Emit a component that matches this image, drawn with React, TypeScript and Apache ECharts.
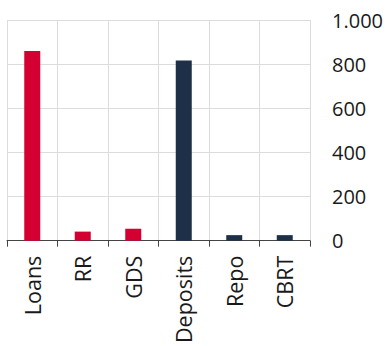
import React, { useEffect, useRef } from "react";
import * as echarts from "echarts";

const categories = ["Loans", "RR", "GDS", "Deposits", "Repo", "CBRT"];
const values = [860, 41, 54, 816, 25, 25];
const barColors = ["#d50032", "#d50032", "#d50032", "#1d3047", "#1d3047", "#1d3047"];
const yTicks = { min: 0, max: 1000, interval: 200 };

function fmt(v: number) {
  return String(v).replace(/\B(?=(\d{3})+(?!\d))/g, ".");
}

export default function App() {
  const ref = useRef<HTMLDivElement>(null);
  useEffect(() => {
    if (!ref.current) return;
    const chart = echarts.init(ref.current, undefined, { renderer: "svg" });
    chart.setOption({
      animation: false,
      grid: { left: 7, right: 78, top: 20, bottom: 102, containLabel: false },
      xAxis: {
        type: "category",
        data: categories,
        axisLine: { show: true, lineStyle: { color: "#444", width: 1 } },
        axisTick: { show: true, length: 6, lineStyle: { color: "#444" } },
        axisLabel: {
          rotate: 90,
          margin: 15,
          fontSize: 21.5,
          fontFamily: "Open Sans",
          color: "#1a1a1a",
        },
        splitLine: { show: true, lineStyle: { color: "#dcdcdc", width: 1 } },
      },
      yAxis: {
        type: "value",
        position: "right",
        min: yTicks.min,
        max: yTicks.max,
        interval: yTicks.interval,
        axisLine: { show: false },
        axisTick: { show: false },
        axisLabel: {
          margin: 22,
          fontSize: 20,
          fontFamily: "Open Sans",
          color: "#1a1a1a",
          formatter: (v: number) => fmt(v),
        },
        splitLine: { show: true, lineStyle: { color: "#dcdcdc", width: 1 } },
      },
      series: [
        {
          type: "bar",
          barWidth: 16,
          data: values.map((v, i) => ({ value: v, itemStyle: { color: barColors[i] } })),
        },
      ],
    });
    return () => chart.dispose();
  }, []);
  return <div ref={ref} style={{ width: 388, height: 346, position: "absolute", left: 0, top: 0 }} />;
}
